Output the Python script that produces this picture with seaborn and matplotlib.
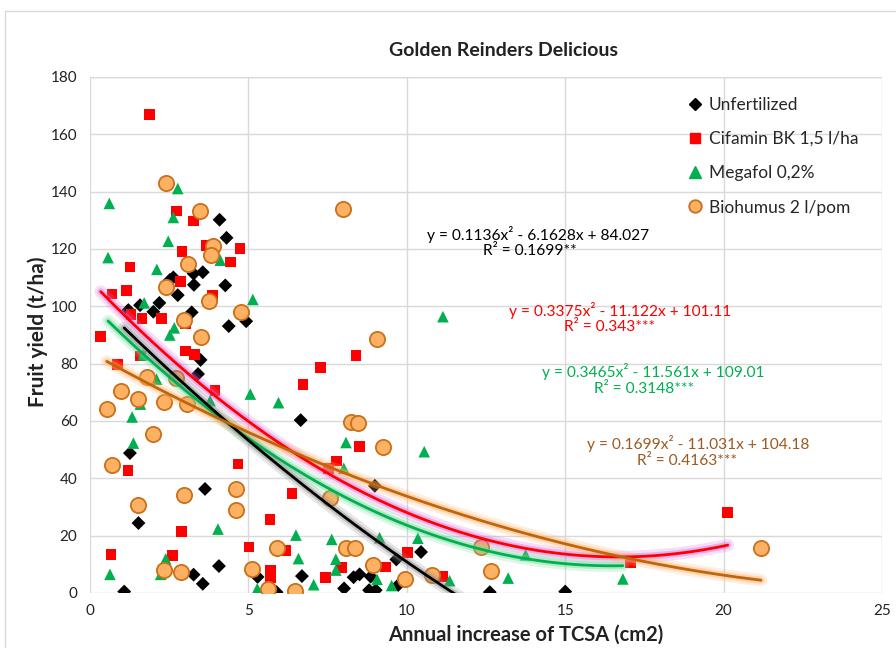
import numpy as np
import pandas as pd
import seaborn as sns
import matplotlib.pyplot as plt
from matplotlib.lines import Line2D
from matplotlib.patches import Rectangle

# data

unfert_x = [1.08, 1.26, 1.53, 3.63, 4.07, 3.27, 3.56, 5.29, 5.89, 4.09, 4.31, 3.56, 3.27, 2.63,
            2.52, 3.28, 4.27, 2.77, 2.19, 1.58, 1.21, 2.00, 3.21, 4.38, 4.93, 3.49, 3.41, 6.65,
            8.99, 6.69, 8.02, 8.32, 8.51, 8.86, 8.81, 9.02, 9.67, 10.45, 9.73, 12.62, 15.0]
unfert_y = [0.5, 48.8, 24.4, 36.3, 9.4, 6.4, 3.2, 5.6, 0.3, 130.2, 123.9, 111.9, 111.4, 110.1,
            109.2, 107.5, 107.3, 103.9, 101.2, 100.4, 98.7, 98.1, 97.9, 93.1, 94.8, 81.3, 76.4, 60.3,
            37.4, 5.9, 1.6, 5.5, 6.5, 5.7, 1.0, 1.0, 11.7, 14.3, 2.8, 0.3, 0.5]

cifamin_x = [1.87, 2.73, 3.26, 3.68, 4.73, 2.91, 4.43, 1.26, 2.86, 1.15, 0.70, 3.87, 1.29, 1.64,
             2.25, 3.02, 0.34, 3.02, 3.30, 1.59, 0.86, 3.94, 4.67, 1.20, 2.89, 0.66, 2.60, 5.68,
             5.02, 5.69, 5.69, 6.38, 6.19, 7.94, 7.43, 9.32, 10.02, 11.14, 7.52, 8.39, 7.27, 6.73,
             8.50, 7.78, 20.13, 17.07]
cifamin_y = [167.0, 133.3, 129.7, 121.3, 120.1, 119.2, 115.5, 113.7, 108.6, 105.5, 104.3, 103.9, 97.2, 95.8,
             95.8, 93.8, 89.4, 84.4, 83.1, 82.7, 79.8, 70.6, 45.0, 42.7, 21.5, 13.5, 13.0, 25.7,
             16.0, 7.9, 5.5, 34.8, 14.8, 8.8, 5.5, 9.1, 14.1, 5.8, 43.5, 82.8, 78.7, 72.8,
             51.2, 46.1, 28.1, 10.4]

megafol_x = [2.77, 0.61, 2.63, 2.47, 0.57, 4.11, 2.11, 1.71, 5.14, 2.66, 2.52, 1.68, 2.10, 5.06,
             5.95, 3.79, 1.59, 1.33, 1.37, 4.04, 0.63, 2.39, 2.23, 5.28, 11.14, 8.08, 10.55, 8.01,
             6.50, 7.63, 9.14, 10.35, 6.58, 7.76, 7.76, 9.06, 7.06, 9.52, 11.35, 13.75, 13.20, 16.82]
megafol_y = [141.1, 135.9, 131.0, 122.7, 117.0, 116.1, 112.9, 101.2, 102.4, 92.5, 90.0, 83.1, 74.6, 69.4,
             66.4, 67.1, 65.9, 61.4, 52.3, 22.3, 6.5, 11.9, 6.5, 1.5, 96.4, 52.5, 49.3, 43.5,
             20.2, 18.7, 19.3, 19.1, 12.0, 11.8, 8.0, 4.8, 2.9, 2.6, 4.3, 13.3, 5.2, 4.9]

biohumus_x = [2.40, 3.47, 3.89, 3.83, 3.10, 2.39, 3.75, 4.76, 2.97, 3.49, 1.80, 2.70, 0.98, 1.50,
              2.34, 3.05, 0.53, 2.00, 0.69, 1.52, 2.97, 4.61, 4.61, 2.34, 2.87, 5.12, 5.63, 5.89,
              7.59, 8.08, 8.35, 8.92, 9.93, 10.81, 6.48, 9.07, 8.23, 8.46, 9.26, 8.00, 12.33, 12.67, 21.18]
biohumus_y = [142.9, 133.2, 121.0, 117.8, 114.6, 106.7, 101.7, 98.0, 95.2, 89.4, 75.2, 74.9, 70.6, 67.6,
              66.5, 65.9, 64.1, 55.5, 44.5, 30.8, 34.2, 36.4, 29.0, 8.0, 7.3, 8.5, 1.4, 15.8,
              33.2, 15.8, 15.8, 9.8, 4.9, 6.3, 0.8, 88.5, 59.8, 59.4, 50.9, 133.8, 16.2, 7.8, 15.8]

series_names = ["Unfertilized", "Cifamin BK 1,5 l/ha", "Megafol 0,2%", "Biohumus 2 l/pom"]

# trendline coefficients (a, b, c) as drawn for each colour
black_coef = [0.1699, -11.031, 104.18]
red_coef = [0.3465, -11.561, 109.01]
green_coef = [0.3375, -11.122, 101.11]
brown_coef = [0.1136, -6.1628, 84.027]

eq_labels = ["y = 0.1136x² - 6.1628x + 84.027", "y = 0.3375x² - 11.122x + 101.11",
             "y = 0.3465x² - 11.561x + 109.01", "y = 0.1699x² - 11.031x + 104.18"]
r2_labels = ["R² = 0.1699**", "R² = 0.343***", "R² = 0.3148***", "R² = 0.4163***"]

sns.set_theme(style="white")
plt.rcParams['font.family'] = ['Lato', 'DejaVu Sans']

fig = plt.figure(figsize=(8.96, 6.48), dpi=100)
ax = fig.add_axes([90/896, 1-593/648, 792/896, 516/648])

grid_c = '#d9d9d9'
ax.set_xlim(0, 25)
ax.set_ylim(0, 180)
ax.set_xticks(range(0, 26, 5))
ax.set_yticks(range(0, 181, 20))
ax.grid(True, color=grid_c, lw=1)
ax.set_axisbelow(True)
for s in ax.spines.values():
    s.set_visible(False)
ax.plot([0, 25], [180, 180], color=grid_c, lw=1, zorder=0)
ax.tick_params(length=0, labelsize=11, colors='#222222')
ax.tick_params(axis='x', pad=8)
ax.tick_params(axis='y', pad=9)

orange_fill = '#FFB163'
orange_edge = '#C8701A'
green_c = '#00B050'

sns.scatterplot(x=unfert_x, y=unfert_y, marker='D', s=50, color='black', edgecolor='none', ax=ax, zorder=3)
sns.scatterplot(x=cifamin_x, y=cifamin_y, marker='s', s=58, color='#FF0000', edgecolor='none', ax=ax, zorder=3)
sns.scatterplot(x=megafol_x, y=megafol_y, marker='^', s=70, color=green_c, edgecolor='none', ax=ax, zorder=3)
sns.scatterplot(x=biohumus_x, y=biohumus_y, marker='o', s=120, color=orange_fill, edgecolor=orange_edge,
                linewidth=1.3, ax=ax, zorder=3)


def trend(coef, xs, color, glow):
    xx = np.linspace(min(xs), max(xs), 200)
    yy = np.polyval(coef, xx)
    sns.lineplot(x=xx, y=yy, color=glow, lw=9, alpha=0.22, ax=ax, zorder=4, estimator=None)
    sns.lineplot(x=xx, y=yy, color=glow, lw=5, alpha=0.4, ax=ax, zorder=4, estimator=None)
    sns.lineplot(x=xx, y=yy, color=color, lw=2, ax=ax, zorder=5, estimator=None)


trend(red_coef, cifamin_x, '#FF0000', '#D86BE0')
trend(green_coef, megafol_x, green_c, '#6FD89A')
trend(black_coef, unfert_x, 'black', '#8a8a8a')
trend(brown_coef, biohumus_x, '#C0650A', '#FFB066')

# equation labels (left edges)
eq_colors = ['black', '#FF0000', green_c, '#9C5A22']
eq_pos = [(10.64, 125.2), (13.23, 98.7), (14.27, 77.1), (15.69, 52.0)]
r2_pos = [(12.41, 119.3), (14.96, 92.8), (15.91, 71.2), (17.27, 46.0)]
for i in range(4):
    ax.text(*eq_pos[i], eq_labels[i], color=eq_colors[i], fontsize=11.2, ha='left', va='center', zorder=6)
    ax.text(*r2_pos[i], r2_labels[i], color=eq_colors[i], fontsize=11.2, ha='left', va='center', zorder=6)

handles = [
    Line2D([], [], marker='D', ls='none', color='black', markersize=6),
    Line2D([], [], marker='s', ls='none', color='#FF0000', markersize=7),
    Line2D([], [], marker='^', ls='none', color=green_c, markersize=8),
    Line2D([], [], marker='o', ls='none', markerfacecolor=orange_fill, markeredgecolor=orange_edge,
           markeredgewidth=1.3, markersize=9),
]
ax.legend(handles, series_names, loc='upper left', bbox_to_anchor=(0.745, 0.975), frameon=False,
          fontsize=12.5, labelspacing=1.05, handlelength=0.9, handletextpad=0.35, borderaxespad=0)

ax.set_xlabel('')
ax.set_ylabel('')
fig.text(503/896, 1-50/648, 'Golden Reinders Delicious', ha='center', va='center', fontsize=14,
         fontweight='bold', color='#222222')
fig.text(526/896, 1-635/648, 'Annual increase of TCSA (cm2)', ha='center', va='center', fontsize=14.5,
         fontweight='bold', color='#222222')
fig.text(38/896, 1-332/648, 'Fruit yield (t/ha)', ha='center', va='center', rotation=90, fontsize=15,
         fontweight='bold', color='#222222')

fig.patches.append(Rectangle((5/896, -0.1), 1.2, 1.1 - 11/648, transform=fig.transFigure,
                             fill=False, edgecolor=grid_c, lw=1))

fig.savefig('out.png', dpi=100)
